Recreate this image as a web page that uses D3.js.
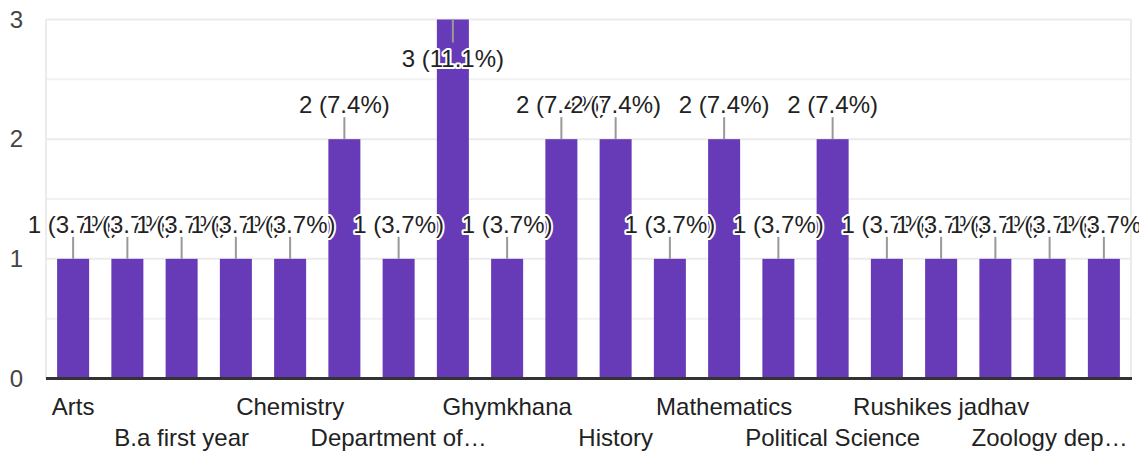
<!DOCTYPE html>
<html>
<head>
<meta charset="utf-8">
<script src="https://cdn.jsdelivr.net/npm/d3@7"></script>
<style>
  body { margin: 0; background: #fff; }
  text { font-family: "Liberation Sans", Arial, sans-serif; }
</style>
</head>
<body>
<svg id="chart" width="1139" height="453"></svg>
<script>
// Data (categories in alphabetical order; only every other label is shown on the axis)
const categories = ["Arts", "B.A", "B.a first year", "Botany", "Chemistry", "Commerce",
  "Department of…", "English", "Ghymkhana", "Hindi", "History", "Marathi",
  "Mathematics", "Physics", "Political Science", "Psychology", "Rushikes jadhav",
  "Science", "Zoology dep…", "Zoology"];
const counts = [1, 1, 1, 1, 1, 2, 1, 3, 1, 2, 2, 1, 2, 1, 2, 1, 1, 1, 1, 1];
const yTicks = [0, 1, 2, 3];
const yMinorTicks = [0.5, 1.5, 2.5];

const total = d3.sum(counts);
const svg = d3.select("#chart");
const W = 1139, H = 453;
const plot = { left: 46, right: 1131, top: 19.5, bottom: 378.5 };

const x = d3.scaleBand().domain(categories).range([plot.left, plot.right]).paddingInner(0.41).paddingOuter(0.205);
const y = d3.scaleLinear().domain([0, 3]).range([plot.bottom, plot.top]);

// Minor gridlines
svg.append("g").selectAll("line").data(yMinorTicks).join("line")
  .attr("x1", plot.left).attr("x2", plot.right)
  .attr("y1", d => y(d)).attr("y2", d => y(d))
  .attr("stroke", "#f2f2f2").attr("stroke-width", 2);
// Major gridlines
svg.append("g").selectAll("line").data(yTicks.filter(d => d > 0)).join("line")
  .attr("x1", plot.left).attr("x2", plot.right)
  .attr("y1", d => y(d)).attr("y2", d => y(d))
  .attr("stroke", "#ebebeb").attr("stroke-width", 2);
// Vertical frame lines
svg.append("g").selectAll("line").data([plot.left, plot.right]).join("line")
  .attr("x1", d => d).attr("x2", d => d)
  .attr("y1", plot.top).attr("y2", plot.bottom)
  .attr("stroke", "#ebebeb").attr("stroke-width", 2);

// Y axis labels
const yAxis = d3.axisLeft(y).tickValues(yTicks).tickSize(0).tickPadding(0).tickFormat(d3.format("d"));
const yg = svg.append("g").attr("transform", `translate(23,0)`).call(yAxis);
yg.select(".domain").remove();
yg.selectAll("text").attr("font-size", 24).attr("fill", "#444")
  .attr("font-family", "'Liberation Sans', Arial, sans-serif");

// Bars
svg.append("g").selectAll("rect").data(categories).join("rect")
  .attr("x", d => x(d))
  .attr("width", x.bandwidth())
  .attr("y", (d, i) => y(counts[i]))
  .attr("height", (d, i) => y(0) - y(counts[i]))
  .attr("fill", "#673ab7");

// Baseline
svg.append("line")
  .attr("x1", plot.left).attr("x2", plot.right + 1)
  .attr("y1", y(0)).attr("y2", y(0))
  .attr("stroke", "#333").attr("stroke-width", 3);

// X axis labels (every other category, alternating two rows)
const xAxis = d3.axisBottom(x).tickSize(0)
  .tickFormat((d, i) => i % 2 === 0 ? d : "");
const xg = svg.append("g").attr("transform", `translate(0,${y(0)})`).call(xAxis);
xg.select(".domain").remove();
xg.selectAll("text")
  .attr("font-size", 24).attr("fill", "#222")
  .attr("font-family", "'Liberation Sans', Arial, sans-serif")
  .attr("dy", null)
  .attr("y", (d, i) => (i % 4 === 0) ? 36 : 67);

// Annotation leader lines and labels
const ann = categories.map((c, i) => {
  const v = counts[i];
  const top = y(v);
  const above = top - 48 >= 0;
  return {
    cx: x(c) + x.bandwidth() / 2,
    top,
    above,
    text: `${v} (${(v / total * 100).toFixed(1)}%)`
  };
});

svg.append("g").selectAll("line").data(ann).join("line")
  .attr("x1", d => d.cx).attr("x2", d => d.cx)
  .attr("y1", d => d.top)
  .attr("y2", d => d.above ? d.top - 22 : d.top + 23)
  .attr("stroke", "#999").attr("stroke-width", 2);

const lg = svg.append("g");
ann.forEach(d => {
  lg.append("text")
    .attr("x", d.cx)
    .attr("y", d.above ? d.top - 26 : d.top + 47)
    .attr("text-anchor", "middle")
    .attr("font-size", 24)
    .attr("fill", "#222")
    .attr("stroke", "#fff")
    .attr("stroke-width", 4)
    .attr("stroke-linejoin", "round")
    .attr("paint-order", "stroke")
    .text(d.text);
});
</script>
</body>
</html>
